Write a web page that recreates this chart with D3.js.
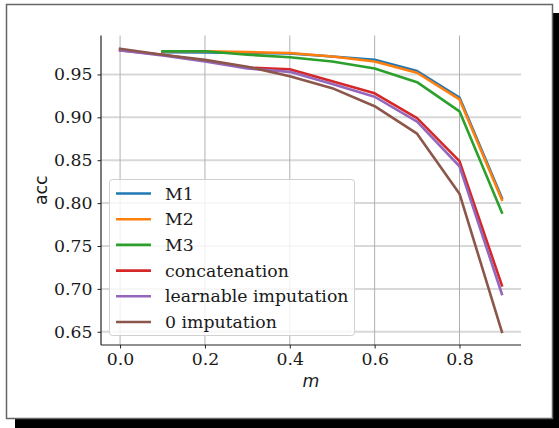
<!DOCTYPE html>
<html>
<head>
<meta charset="utf-8">
<script src="https://cdn.jsdelivr.net/npm/d3@7"></script>
<style>
  body { margin: 0; background: #fff; }
  svg { display: block; }
</style>
</head>
<body>
<div id="chart"></div>
<script>
// Data
const mFull = [0, 0.1, 0.2, 0.3, 0.4, 0.5, 0.6, 0.7, 0.8, 0.9];
const mShort = [0.1, 0.2, 0.3, 0.4, 0.5, 0.6, 0.7, 0.8, 0.9];

const m1 = [0.976, 0.9755, 0.975, 0.9745, 0.971, 0.967, 0.954, 0.923, 0.806];
const m2 = [0.977, 0.977, 0.976, 0.975, 0.971, 0.965, 0.952, 0.921, 0.804];
const m3 = [0.977, 0.977, 0.973, 0.970, 0.965, 0.957, 0.941, 0.907, 0.789];
const concatenation = [0.978, 0.973, 0.966, 0.958, 0.956, 0.942, 0.928, 0.899, 0.849, 0.704];
const learnable = [0.978, 0.972, 0.965, 0.957, 0.953, 0.939, 0.924, 0.895, 0.843, 0.694];
const zeroImp = [0.980, 0.973, 0.967, 0.959, 0.948, 0.934, 0.913, 0.881, 0.811, 0.650];

const seriesNames = ["M1", "M2", "M3", "concatenation", "learnable imputation", "0 imputation"];
const colors = ["#1f77b4", "#ff7f0e", "#2ca02c", "#d62728", "#9467bd", "#8c564b"];

const xTicks = [0, 0.2, 0.4, 0.6, 0.8];
const yTicks = [0.65, 0.70, 0.75, 0.80, 0.85, 0.90, 0.95];

const series = [
  { name: seriesNames[0], xs: mShort, ys: m1 },
  { name: seriesNames[1], xs: mShort, ys: m2 },
  { name: seriesNames[2], xs: mShort, ys: m3 },
  { name: seriesNames[3], xs: mFull, ys: concatenation },
  { name: seriesNames[4], xs: mFull, ys: learnable },
  { name: seriesNames[5], xs: mFull, ys: zeroImp },
];

// Dimensions
const width = 559;
const height = 428;
const plot = { left: 101, right: 521, top: 35.5, bottom: 345 };
const fontSize = "17.3px";

const svg = d3.select("#chart")
  .append("svg")
  .attr("width", width)
  .attr("height", height);

// outer frame with drop shadow
svg.append("rect")
  .attr("x", 15).attr("y", 13)
  .attr("width", width - 15).attr("height", height - 13)
  .attr("fill", "#000");
svg.append("rect")
  .attr("x", 6.5).attr("y", 4.5)
  .attr("width", 546).attr("height", 414)
  .attr("fill", "#fff")
  .attr("stroke", "#666")
  .attr("stroke-width", 1.5);

// Scales (matplotlib-like 5% margins)
const xScale = d3.scaleLinear()
  .domain([-0.045, 0.945])
  .range([plot.left, plot.right]);

const yScale = d3.scaleLinear()
  .domain([0.6346, 0.9954])
  .range([plot.bottom, plot.top]);

// Grid
const grid = svg.append("g");
grid.selectAll(".hgrid")
  .data(yTicks)
  .join("line")
  .attr("x1", plot.left).attr("x2", plot.right)
  .attr("y1", (d) => yScale(d)).attr("y2", (d) => yScale(d))
  .attr("stroke", "#d8d8d8")
  .attr("stroke-width", 2);
grid.selectAll(".vgrid")
  .data(xTicks)
  .join("line")
  .attr("x1", (d) => xScale(d)).attr("x2", (d) => xScale(d))
  .attr("y1", plot.top).attr("y2", plot.bottom)
  .attr("stroke", "#b0b0b0")
  .attr("stroke-width", 1);

// Lines
const line = d3.line()
  .x((d) => xScale(d[0]))
  .y((d) => yScale(d[1]));

svg.append("g")
  .selectAll("path")
  .data(series)
  .join("path")
  .attr("d", (s) => line(s.xs.map((x, i) => [x, s.ys[i]])))
  .attr("fill", "none")
  .attr("stroke", (s, i) => colors[i])
  .attr("stroke-width", 2.6)
  .attr("stroke-linejoin", "round")
  .attr("stroke-linecap", "square");

// Axes
const xAxis = d3.axisBottom(xScale)
  .tickValues(xTicks)
  .tickFormat(d3.format(".1f"))
  .tickSizeInner(3.5)
  .tickSizeOuter(0)
  .tickPadding(4);
const yAxis = d3.axisLeft(yScale)
  .tickValues(yTicks)
  .tickFormat(d3.format(".2f"))
  .tickSizeInner(3.5)
  .tickSizeOuter(0)
  .tickPadding(5);

const xAxisG = svg.append("g")
  .attr("transform", `translate(0, ${plot.bottom})`)
  .call(xAxis);
const yAxisG = svg.append("g")
  .attr("transform", `translate(${plot.left}, 0)`)
  .call(yAxis);

xAxisG.select(".domain").attr("d", `M${plot.left},0H${plot.right}`);
yAxisG.select(".domain").attr("d", `M0,${plot.top}V${plot.bottom}`);

[xAxisG, yAxisG].forEach((g) => {
  g.select(".domain").attr("stroke", "#222").attr("stroke-width", 1.2);
  g.selectAll(".tick line").attr("stroke", "#222").attr("stroke-width", 1);
  g.selectAll(".tick text")
    .attr("fill", "#1a1a1a")
    .style("font-family", "'DejaVu Serif', serif")
    .style("font-size", fontSize);
});

// Axis labels
svg.append("text")
  .attr("x", (plot.left + plot.right) / 2)
  .attr("y", 387)
  .attr("text-anchor", "middle")
  .style("font-family", "'DejaVu Sans', sans-serif")
  .style("font-style", "italic")
  .style("font-size", fontSize)
  .attr("fill", "#1a1a1a")
  .text("m");

svg.append("text")
  .attr("transform", `translate(47, ${(plot.top + plot.bottom) / 2}) rotate(-90)`)
  .attr("text-anchor", "middle")
  .style("font-family", "'DejaVu Sans', sans-serif")
  .style("font-size", fontSize)
  .attr("fill", "#1a1a1a")
  .text("acc");

// Legend
const legend = svg.append("g");
legend.append("rect")
  .attr("x", 109.5).attr("y", 179.5)
  .attr("width", 245).attr("height", 156)
  .attr("rx", 3)
  .attr("fill", "#fff")
  .attr("fill-opacity", 0.8)
  .attr("stroke", "#d0d0d0");

const items = legend.selectAll(".item")
  .data(series)
  .join("g")
  .attr("transform", (d, i) => `translate(0, ${193.5 + i * 25.7})`);
items.append("line")
  .attr("x1", 116).attr("x2", 151)
  .attr("stroke", (d, i) => colors[i])
  .attr("stroke-width", 2.6);
items.append("text")
  .attr("x", 165)
  .attr("dy", "0.35em")
  .style("font-family", "'DejaVu Serif', serif")
  .style("font-size", fontSize)
  .attr("fill", "#1a1a1a")
  .text((d) => d.name);
</script>
</body>
</html>
